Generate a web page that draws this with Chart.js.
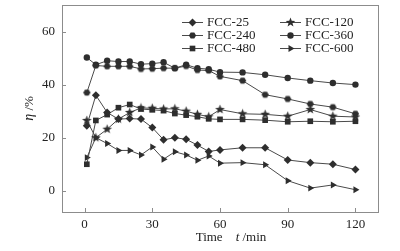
<!DOCTYPE html>
<html lang="en">
<head>
    <meta charset="UTF-8">
    <title>FCC efficiency vs time</title>
    <script src="https://cdn.jsdelivr.net/npm/chart.js"></script>
    <style>
        body { margin: 0; background: #ffffff; }
        #wrap { width: 400px; height: 251px; position: relative; }
    </style>
</head>
<body>
    <div id="wrap"><canvas id="chart" width="400" height="251"></canvas></div>

    <script>
        // time points (min)
        const times = [1, 5, 10, 15, 20, 25, 30, 35, 40, 45, 50, 55, 60, 70, 80, 90, 100, 110, 120];

        const fcc25  = [24.5, 36, 29.5, 27, 27.2, 27, 23.8, 19.2, 20, 19.4, 17.2, 14.8, 15.4, 16.2, 16.2, 11.6, 10.6, 10, 8];
        const fcc120 = [26.5, 20, 23.2, 27, 29.5, 31.2, 31.1, 30.8, 30.9, 30, 28.8, 27.9, 30.6, 29, 28.8, 28.1, 30.6, 28.1, 27.8];
        const fcc240 = [37, 47.2, 46.9, 46.9, 46.9, 45.9, 46, 46.2, 46.2, 47, 45.5, 45.3, 43.1, 41.5, 36.2, 34.6, 32.7, 31.5, 29];
        const fcc360 = [50.2, 47.5, 49, 48.7, 48.7, 47.7, 47.9, 48.4, 46.2, 47.5, 46.2, 45.8, 44.7, 44.6, 43.7, 42.5, 41.5, 40.6, 40];
        const fcc480 = [10, 26.5, 28.7, 31.3, 32.5, 30.8, 30.5, 30.2, 29.1, 28.5, 27.9, 27.1, 26.9, 26.9, 26.6, 26, 26.2, 26, 26.2];
        const fcc600 = [12.5, 20, 17.8, 15.2, 15.2, 13.5, 16.5, 11.9, 14.7, 13.5, 11.5, 13.1, 10.4, 10.6, 9.8, 3.8, 1, 2.2, 0.4];

        const seriesNames = ['FCC-25', 'FCC-120', 'FCC-240', 'FCC-360', 'FCC-480', 'FCC-600'];
        const xTicks = [0, 30, 60, 90, 120];
        const yTicks = [0, 20, 40, 60];

        const ink = '#2e2e2e';
        const lineCol = '#4a4a4a';
        const frameCol = '#8c8c8c';
        const serif = "'Liberation Serif', 'DejaVu Serif', serif";

        // small canvases for markers chart.js has no built-in shape for
        function makeMarker(size, draw) {
            const c = document.createElement('canvas');
            c.width = size;
            c.height = size;
            const g = c.getContext('2d');
            g.fillStyle = ink;
            g.beginPath();
            draw(g, size / 2);
            g.closePath();
            g.fill();
            return c;
        }

        const starMarker = makeMarker(11, (g, c) => {
            for (let i = 0; i < 10; i++) {
                const r = i % 2 === 0 ? 5 : 2.1;
                const a = -Math.PI / 2 + i * Math.PI / 5;
                const px = c + r * Math.cos(a), py = c + r * Math.sin(a);
                if (i === 0) g.moveTo(px, py); else g.lineTo(px, py);
            }
        });

        const hexMarker = makeMarker(9, (g, c) => {
            for (let i = 0; i < 6; i++) {
                const a = i * Math.PI / 3;
                const px = c + 3.6 * Math.cos(a), py = c + 3.6 * Math.sin(a);
                if (i === 0) g.moveTo(px, py); else g.lineTo(px, py);
            }
        });

        const styles = [
            { pointStyle: 'rectRot', radius: 4, rotation: 0 },
            { pointStyle: starMarker, radius: 5, rotation: 0 },
            { pointStyle: hexMarker, radius: 4, rotation: 0 },
            { pointStyle: 'circle', radius: 3.2, rotation: 0 },
            { pointStyle: 'rect', radius: 4, rotation: 0 },
            { pointStyle: 'triangle', radius: 4, rotation: 90 }
        ];

        const allValues = [fcc25, fcc120, fcc240, fcc360, fcc480, fcc600];

        const datasets = allValues.map((vals, i) => ({
            label: seriesNames[i],
            data: times.map((t, k) => ({ x: t, y: vals[k] })),
            borderColor: lineCol,
            borderWidth: 1,
            backgroundColor: ink,
            pointBackgroundColor: ink,
            pointBorderColor: ink,
            pointBorderWidth: 0,
            pointStyle: styles[i].pointStyle,
            pointRadius: styles[i].radius,
            pointRotation: styles[i].rotation,
            tension: 0
        }));

        // frame, inward ticks, axis titles and legend
        const decorations = {
            id: 'decorations',
            afterDraw(chart) {
                const { ctx, chartArea: a, scales } = chart;
                ctx.save();
                ctx.strokeStyle = frameCol;
                ctx.lineWidth = 1;
                ctx.strokeRect(a.left + 0.5, a.top + 0.5, a.right - a.left, a.bottom - a.top);

                ctx.beginPath();
                scales.x.ticks.forEach(t => {
                    const px = Math.round(scales.x.getPixelForValue(t.value)) + 0.5;
                    ctx.moveTo(px, a.bottom);
                    ctx.lineTo(px, a.bottom - 4);
                });
                scales.y.ticks.forEach(t => {
                    const py = Math.round(scales.y.getPixelForValue(t.value)) + 0.5;
                    ctx.moveTo(a.left, py);
                    ctx.lineTo(a.left + 4, py);
                });
                ctx.stroke();

                // x title: "Time   t /min"
                ctx.fillStyle = '#222';
                ctx.textBaseline = 'alphabetic';
                ctx.textAlign = 'left';
                const parts = [
                    { s: 'Time', f: '13px ' + serif },
                    { s: '    ', f: '13px ' + serif },
                    { s: 't', f: 'italic 13px ' + serif },
                    { s: ' /min', f: '13px ' + serif }
                ];
                let total = 0;
                parts.forEach(p => { ctx.font = p.f; total += ctx.measureText(p.s).width; });
                let xx = (a.left + a.right) / 2 + 11 - total / 2;
                parts.forEach(p => { ctx.font = p.f; ctx.fillText(p.s, xx, 241); xx += ctx.measureText(p.s).width; });

                // y title: "η /%"
                ctx.save();
                ctx.translate(33, (a.top + a.bottom) / 2);
                ctx.rotate(-Math.PI / 2);
                const yParts = [
                    { s: 'η', f: 'italic 14px ' + serif },
                    { s: ' /%', f: '13px ' + serif }
                ];
                let yt = 0;
                yParts.forEach(p => { ctx.font = p.f; yt += ctx.measureText(p.s).width; });
                let yx = -yt / 2;
                yParts.forEach(p => { ctx.font = p.f; ctx.fillText(p.s, yx, 0); yx += ctx.measureText(p.s).width; });
                ctx.restore();

                // legend, two columns
                ctx.font = '13px ' + serif;
                ctx.textBaseline = 'middle';
                chart.data.datasets.forEach((ds, i) => {
                    const col = i % 2, row = Math.floor(i / 2);
                    const lx = a.right - 196 + col * 98;
                    const ly = a.top + 17 + row * 13;
                    ctx.strokeStyle = lineCol;
                    ctx.beginPath();
                    ctx.moveTo(lx, ly + 0.5);
                    ctx.lineTo(lx + 21, ly + 0.5);
                    ctx.stroke();
                    ctx.fillStyle = ink;
                    ctx.strokeStyle = ink;
                    Chart.helpers.drawPoint(ctx, {
                        pointStyle: ds.pointStyle,
                        radius: ds.pointRadius,
                        rotation: ds.pointRotation,
                        borderWidth: 0
                    }, lx + 10.5, ly + 0.5);
                    ctx.fillStyle = '#222';
                    ctx.fillText(ds.label, lx + 25, ly + 1);
                });
                ctx.restore();
            }
        };

        new Chart(document.getElementById('chart'), {
            type: 'line',
            data: { datasets },
            options: {
                responsive: false,
                animation: false,
                layout: { padding: { top: 4, right: 22, left: 0, bottom: 0 } },
                plugins: {
                    legend: { display: false },
                    tooltip: { enabled: false }
                },
                scales: {
                    x: {
                        type: 'linear',
                        min: -10,
                        max: 130,
                        afterBuildTicks: s => { s.ticks = xTicks.map(v => ({ value: v })); },
                        afterFit: s => {
                            s.height = 39;
                            s.paddingLeft = 0;
                            s.paddingRight = 0;
                        },
                        grid: { display: false, drawTicks: false },
                        border: { display: false },
                        ticks: {
                            color: '#222',
                            padding: 5,
                            maxRotation: 0,
                            font: { family: serif, size: 13 }
                        }
                    },
                    y: {
                        min: -8,
                        max: 70,
                        afterBuildTicks: s => { s.ticks = yTicks.map(v => ({ value: v })); },
                        afterFit: s => {
                            s.width = 62;
                            s.paddingTop = 0;
                            s.paddingBottom = 0;
                        },
                        grid: { display: false, drawTicks: false },
                        border: { display: false },
                        ticks: {
                            color: '#222',
                            padding: 7,
                            font: { family: serif, size: 13 }
                        }
                    }
                }
            },
            plugins: [decorations]
        });
    </script>
</body>
</html>
